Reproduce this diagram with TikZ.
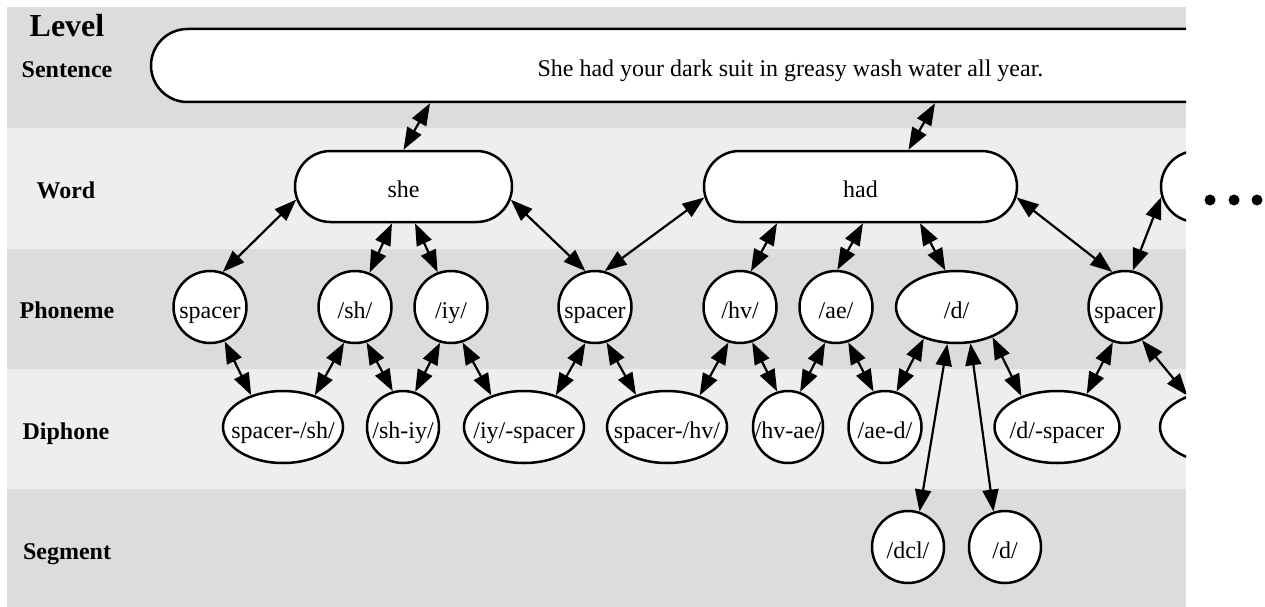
\documentclass[tikz,border=0pt]{standalone}
\usepackage{fontspec}
\setmainfont{Liberation Serif}
\usetikzlibrary{arrows.meta,shapes.geometric,shapes.misc}
\definecolor{banddark}{RGB}{220,220,220}
\definecolor{bandlight}{RGB}{238,238,238}
\begin{document}
\begin{tikzpicture}[x=1pt,y=-1pt,>={Triangle[length=22pt,width=16pt]},line join=round,
  unit/.style={draw,line width=2.5pt,fill=white,ellipse,minimum width=#1,minimum height=72pt,
    inner xsep=-30pt,inner ysep=0pt,text height=22pt,text depth=0pt,font=\fontsize{24}{28}\selectfont},
  unit/.default=73pt,
  blob/.style={draw,line width=2.5pt,fill=white,rounded rectangle,minimum width=#1,minimum height=72pt,
    inner sep=0pt,text height=22pt,text depth=0pt,font=\fontsize{24}{28}\selectfont},
  link/.style={<->,line width=2.2pt},
  level/.style={anchor=base,font=\fontsize{24}{28}\selectfont\bfseries}]
\useasboundingbox (0,0) rectangle (1265,607);
\def\bandend{1186}
% level bands
\fill[banddark]  (7,7)   rectangle (\bandend,128);
\fill[bandlight] (7,128) rectangle (\bandend,249);
\fill[banddark]  (7,249) rectangle (\bandend,369);
\fill[bandlight] (7,369) rectangle (\bandend,489);
\fill[banddark]  (7,489) rectangle (\bandend,607);
\node[level] (lvl) at (67,37) {\fontsize{32}{36}\selectfont Level};
\node[level] (lsent) at (67,78) {Sentence};
\node[level] (lword) at (66,198) {Word};
\node[level] (lphon) at (67,318) {Phoneme};
\node[level] (ldiph) at (66,439) {Diphone};
\node[level] (lseg) at (67,559) {Segment};
\begin{scope}
\clip (7,0) rectangle (\bandend,607);
% sentence and words
\node[blob=1279pt,minimum height=73pt] (sent) at (790.5,65.5) {She had your dark suit in greasy wash water all year.};
\node[blob=217pt,minimum height=71pt] (she) at (403.5,186.5) {she};
\node[blob=313pt,minimum height=71pt] (had) at (860.5,186.5) {had};
\node[blob=200pt,minimum height=71pt] (w3) at (1261,186.5) {};
% phonemes
\node[unit] (sp1) at (210,307) {spacer};
\node[unit] (sh) at (355,307) {/sh/};
\node[unit] (iy) at (451,307) {/iy/};
\node[unit] (sp2) at (595,307) {spacer};
\node[unit] (hv) at (740,307) {/hv/};
\node[unit] (ae) at (836,307) {/ae/};
\node[unit=121pt] (d) at (956.5,307) {/d/};
\node[unit] (sp3) at (1125,307) {spacer};
% diphones
\node[unit=120pt] (d1) at (283,427) {spacer-/sh/};
\node[unit=72pt] (d2) at (403,427) {/sh-iy/};
\node[unit=120pt] (d3) at (524,427) {/iy/-spacer};
\node[unit=120pt] (d4) at (667,427) {spacer-/hv/};
\node[unit=70pt] (d5) at (788,427) {/hv-ae/};
\node[unit] (d6) at (885,427) {/ae-d/};
\node[unit=125pt] (d7) at (1057,427) {/d/-spacer};
\node[unit=120pt] (d8) at (1220,427) {};
% segments
\node[unit=72pt] (s1) at (908,547) {/dcl/};
\node[unit=72pt] (s2) at (1005,547) {/d/};
% links
\draw[link] (sent.south -| 430,0) -- (she.north);
\draw[link] (sent.south -| 935,0) -- ([xshift=48pt]had.north);
\draw[link] (she.187) -- (sp1.70);
\draw[link] ([xshift=-11.5pt]she.south) -- (sh.67);
\draw[link] ([xshift=11.5pt]she.south) -- (iy.111);
\draw[link] (she.353) -- (sp2.105);
\draw[link] (had.184) -- (sp2.75);
\draw[link] ([xshift=-83.5pt]had.south) -- (hv.73);
\draw[link] ([xshift=2.5pt]had.south) -- (ae.88);
\draw[link] ([xshift=59.5pt]had.south) -- (d.107);
\draw[link] (had.356) -- (sp3.110);
\draw[link] (w3.186) -- (sp3.78);
\draw[link] (sp1.293) -- (d1.135);
\draw[link] (sh.253) -- (d1.45);
\draw[link] (sh.288) -- (d2.106);
\draw[link] (iy.253) -- (d2.71);
\draw[link] (iy.288) -- (d3.136);
\draw[link] (sp2.255) -- (d3.45);
\draw[link] (sp2.288) -- (d4.134);
\draw[link] (hv.252) -- (d4.44);
\draw[link] (hv.289) -- (d5.107);
\draw[link] (ae.253) -- (d5.71);
\draw[link] (ae.289) -- (d6.108);
\draw[link] (d.224) -- (d6.72);
\draw[link] (d.320) -- (d7.139);
\draw[link] (sp3.251) -- (d7.48);
\draw[link] (sp3.297) -- (d8.136);
\draw[link] (d.256) -- (s1.72);
\draw[link] (d.291) -- (s2.108);
\end{scope}
% more words follow
\foreach \i/\x in {1/1210,2/1234,3/1257}
  \node[circle,fill,inner sep=0pt,minimum size=11pt] (dot\i) at (\x,200) {};
\end{tikzpicture}
\end{document}
